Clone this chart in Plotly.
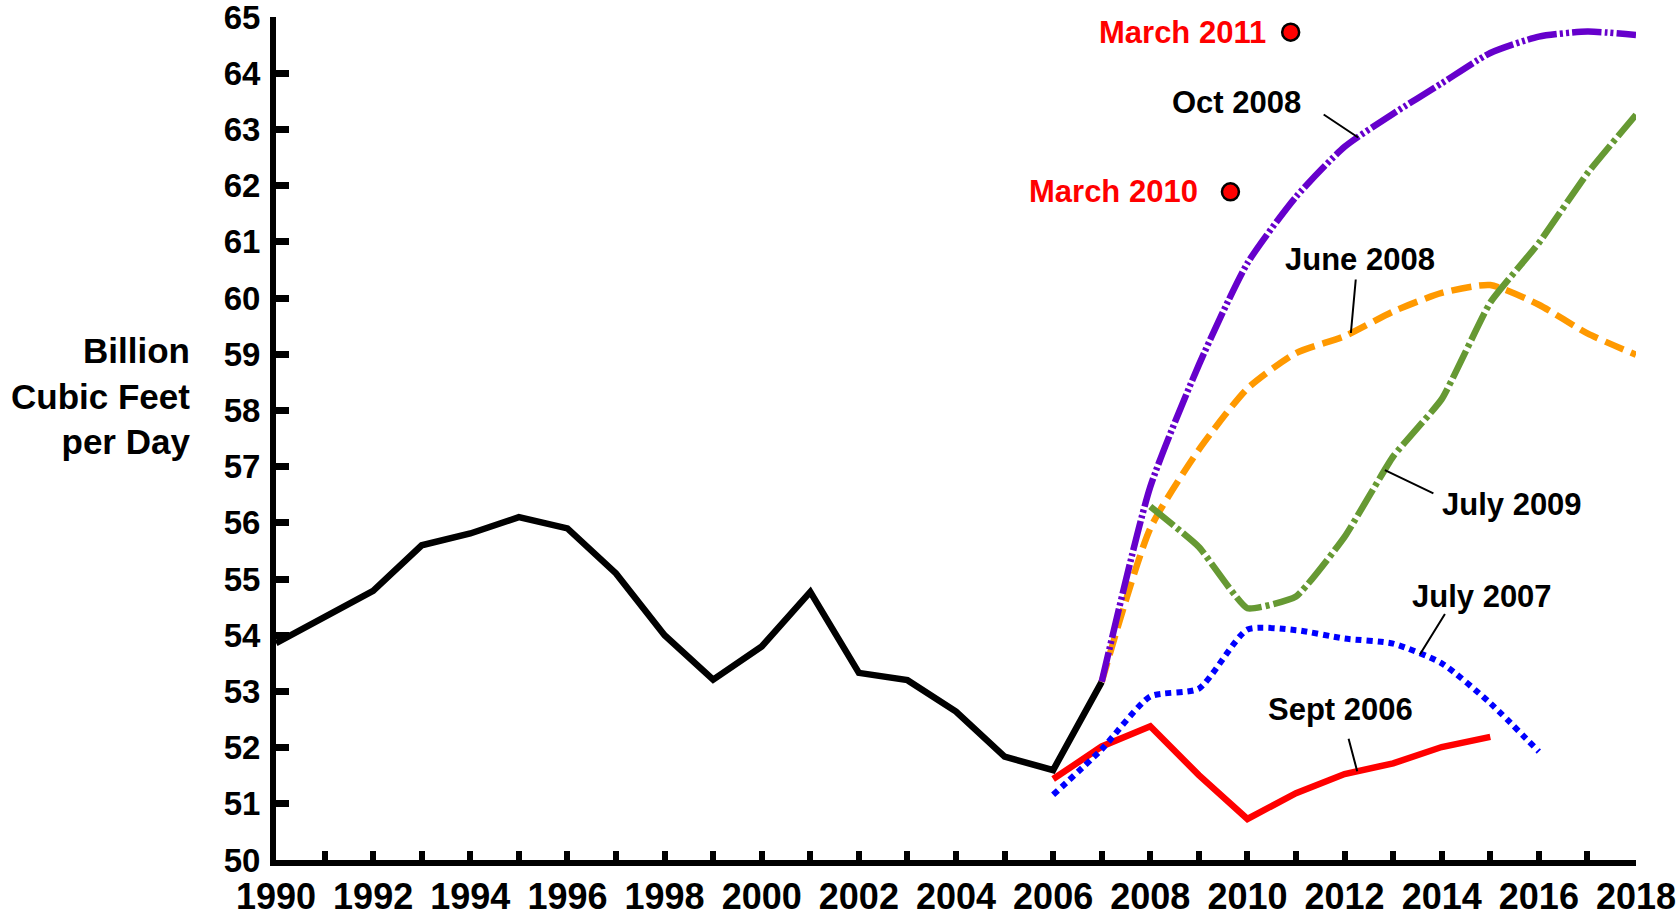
import numpy as np
import plotly.graph_objects as go

# historical production (black line)
hist_years = list(range(1990, 2008))
hist_vals = [53.86, 54.33, 54.79, 55.60, 55.81, 56.10, 55.90, 55.10, 54.00, 53.21,
             53.80, 54.77, 53.33, 53.20, 52.64, 51.84, 51.60, 53.17]

# forecasts by vintage
sept2006_years = list(range(2006, 2016))
sept2006_vals = [51.44, 52.02, 52.38, 51.51, 50.73, 51.19, 51.53, 51.72, 52.01, 52.19]

july2007_years = list(range(2006, 2017))
july2007_vals = [51.16, 51.97, 52.91, 53.05, 54.10, 54.09, 53.94, 53.85, 53.50, 52.79, 51.93]

june2008_years = list(range(2007, 2019))
june2008_vals = [53.17, 55.90, 57.30, 58.39, 59.02, 59.32, 59.76, 60.09, 60.23, 59.88, 59.37, 58.99]

oct2008_years = list(range(2007, 2019))
oct2008_vals = [53.17, 56.64, 58.81, 60.62, 61.80, 62.69, 63.28, 63.82, 64.36, 64.65, 64.74, 64.68]

july2009_years = list(range(2008, 2019))
july2009_vals = [56.29, 55.57, 54.48, 54.69, 55.75, 57.18, 58.20, 59.92, 60.98, 62.22, 63.26]

# single-point forecasts
march_x = [2009.65, 2010.89]
march_y = [61.89, 64.73]
march_labels = ["March 2010", "March 2011"]

FONT = "Liberation Sans, Arial, sans-serif"
W, H = 1679, 919
L, R, T, B = 276, 43, 17, 59

fig = go.Figure()

fig.add_trace(go.Scatter(x=hist_years, y=hist_vals, mode="lines",
                         line=dict(color="black", width=6.5), showlegend=False))
fig.add_trace(go.Scatter(x=sept2006_years, y=sept2006_vals, mode="lines",
                         line=dict(color="#FF0000", width=6.5), showlegend=False))
fig.add_trace(go.Scatter(x=july2007_years, y=july2007_vals, mode="lines",
                         line=dict(color="#0000FF", width=6, dash="6px,5px",
                                   shape="spline", smoothing=0.6),
                         showlegend=False))
fig.add_trace(go.Scatter(x=june2008_years, y=june2008_vals, mode="lines",
                         line=dict(color="#FF9900", width=6.5, dash="20px,8px",
                                   shape="spline", smoothing=0.6),
                         showlegend=False))
fig.add_trace(go.Scatter(x=oct2008_years, y=oct2008_vals, mode="lines",
                         line=dict(color="#6600CC", width=6.5,
                                   dash="30px,3px,3px,3px,3px,3px",
                                   shape="spline", smoothing=0.6),
                         showlegend=False))
fig.add_trace(go.Scatter(x=july2009_years, y=july2009_vals, mode="lines",
                         line=dict(color="#669933", width=6.5, dash="30px,4px,4px,4px",
                                   shape="spline", smoothing=0.4),
                         showlegend=False))
fig.add_trace(go.Scatter(x=march_x, y=march_y, mode="markers",
                         marker=dict(size=17, color="#FF0000",
                                     line=dict(color="black", width=2.5)),
                         showlegend=False))

label_font = dict(family=FONT, size=31, color="black", weight="bold")
red_font = dict(family=FONT, size=31, color="#FF0000", weight="bold")

# red labels next to the dots
for xv, yv, txt, xo in zip(march_x, march_y, march_labels, [2009.02, 2010.42]):
    fig.add_annotation(x=xo, y=yv, text=txt, showarrow=False, xanchor="right",
                       yanchor="middle", font=red_font)

# series labels
labels = [
    ("Oct 2008", 2011.14, 63.47, "right"),
    ("June 2008", 2012.32, 60.69, "center"),
    ("July 2009", 2013.97, 56.33, "left"),
    ("July 2007", 2014.83, 54.68, "center"),
    ("Sept 2006", 2011.91, 52.67, "center"),
]
for txt, xv, yv, anc in labels:
    fig.add_annotation(x=xv, y=yv, text=txt, showarrow=False, xanchor=anc,
                       yanchor="middle", font=label_font)

# leader lines: point on the series, pixel offset to the free end
leaders = [
    (oct2008_years, oct2008_vals, 2012.28, -36, -24),
    (june2008_years, june2008_vals, 2012.13, 5, -55),
    (july2009_years, july2009_vals, 2012.83, 50, 24),
    (july2007_years, july2007_vals, 2013.55, 26, -42),
    (sept2006_years, sept2006_vals, 2012.26, -9, -34),
]
for xs, ys, xp, ax, ay in leaders:
    fig.add_annotation(x=xp, y=float(np.interp(xp, xs, ys)), text="",
                       showarrow=True, arrowhead=0, arrowwidth=2,
                       arrowcolor="black", ax=ax, ay=ay, standoff=0)

# y-axis title
fig.add_annotation(xref="paper", yref="paper", x=(192 - L) / (W - L - R),
                   y=(860 - 396) / (H - T - B),
                   text="Billion<br>Cubic Feet<br>per Day", showarrow=False,
                   xanchor="right", yanchor="middle", align="right",
                   font=dict(family=FONT, size=35, color="black", weight="bold"))

fig.update_xaxes(range=[1990, 2018], dtick=2, tick0=1990, showgrid=False,
                 zeroline=False, showline=True, linewidth=6, linecolor="black",
                 ticks="inside", ticklen=9, tickwidth=6, tickcolor="black",
                 minor=dict(dtick=1, ticks="inside", ticklen=9, tickwidth=6,
                            tickcolor="black", showgrid=False),
                 tickfont=dict(family=FONT, size=36, color="black", weight="bold"),
                 ticklabeloverflow="allow", automargin=False)
fig.update_yaxes(range=[50, 65], dtick=1, showgrid=False, zeroline=False,
                 showline=True, linewidth=6, linecolor="black",
                 ticks="inside", ticklen=13, tickwidth=7, tickcolor="black",
                 tickfont=dict(family=FONT, size=33, color="black", weight="bold"),
                 ticklabeloverflow="allow", ticklabelstandoff=3, automargin=False)

fig.update_layout(width=W, height=H, margin=dict(l=L, r=R, t=T, b=B),
                  plot_bgcolor="white", paper_bgcolor="white",
                  font=dict(family=FONT))

fig.write_html("out.html", config={"displayModeBar": False},
               post_script="document.body.style.margin='0';"
                           "document.body.style.overflow='hidden';")
